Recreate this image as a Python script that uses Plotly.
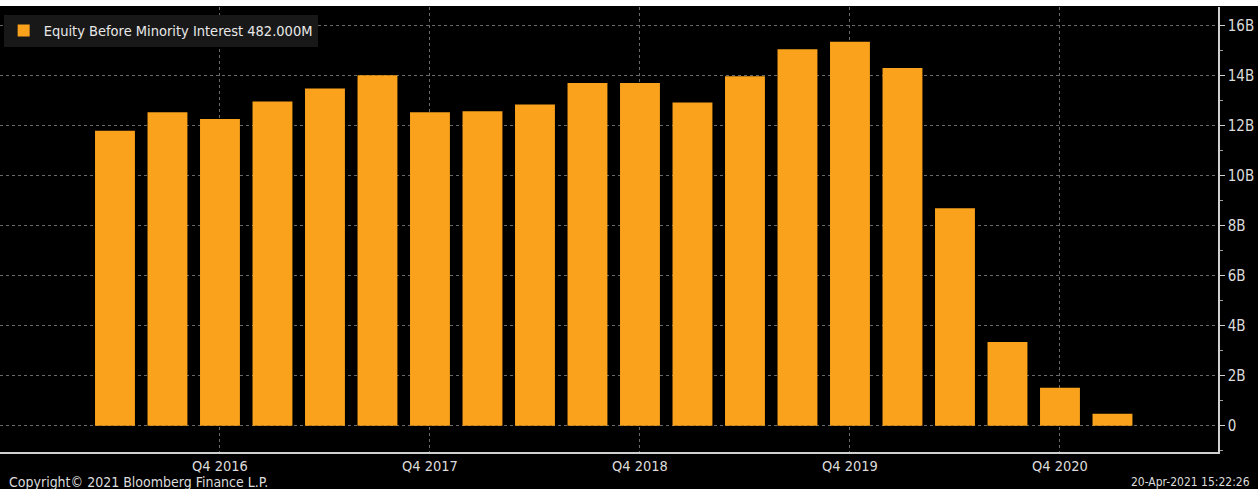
import plotly.graph_objects as go

quarters = ["Q2 2016", "Q3 2016", "Q4 2016", "Q1 2017", "Q2 2017", "Q3 2017", "Q4 2017",
            "Q1 2018", "Q2 2018", "Q3 2018", "Q4 2018", "Q1 2019", "Q2 2019", "Q3 2019",
            "Q4 2019", "Q1 2020", "Q2 2020", "Q3 2020", "Q4 2020", "Q1 2021"]
equity_bn = [11.80, 12.54, 12.27, 12.97, 13.49, 14.02, 12.54, 12.58, 12.85, 13.71,
             13.71, 12.93, 13.98, 15.06, 15.36, 14.31, 8.70, 3.35, 1.52, 0.482]
y_tick_vals = [0, 2, 4, 6, 8, 10, 12, 14, 16]
y_tick_text = ["0", "2B", "4B", "6B", "8B", "10B", "12B", "14B", "16B"]
x_tick_labels = ["Q4 2016", "Q4 2017", "Q4 2018", "Q4 2019", "Q4 2020"]

FONT = "DejaVu Sans Condensed, Liberation Sans Narrow, DejaVu Sans, sans-serif"
ORANGE = "#FAA21B"
TXT = "#dcdcdc"

legend_name = f"Equity Before Minority Interest {equity_bn[-1] * 1000:.3f}M"

fig = go.Figure()
fig.add_trace(go.Bar(x=quarters, y=equity_bn, name=legend_name,
                     marker=dict(color=ORANGE, line=dict(width=0)),
                     showlegend=True))

fig.update_layout(
    width=1258, height=489,
    margin=dict(l=0, r=40, t=7, b=37),
    paper_bgcolor="black", plot_bgcolor="black",
    font=dict(family=FONT, size=14, color=TXT),
    bargap=0.24,
    showlegend=True,
    legend=dict(x=0.003, y=0.983, xanchor="left", yanchor="top",
                bgcolor="#181818", borderwidth=0,
                font=dict(family=FONT, size=14.5, color="#e8e8e8"),
                itemsizing="constant", itemwidth=30,
                tracegroupgap=0),
    xaxis=dict(
        type="category",
        range=[-2.19, 21.01],
        tickmode="array", tickvals=x_tick_labels, ticktext=x_tick_labels,
        showgrid=True, gridcolor="#6a6a6a", griddash="dot", gridwidth=1,
        showline=True, linecolor="#d0d0d0", linewidth=1.5,
        ticks="",
        tickfont=dict(family=FONT, size=14.5, color=TXT),
        zeroline=False, fixedrange=True,
    ),
    yaxis=dict(
        side="right",
        range=[-1.05, 16.75],
        tickmode="array", tickvals=y_tick_vals, ticktext=y_tick_text,
        showgrid=True, gridcolor="#6a6a6a", griddash="dot", gridwidth=1,
        showline=True, linecolor="#d0d0d0", linewidth=1.5,
        ticks="outside", ticklen=5, tickcolor="#d0d0d0",
        minor=dict(dtick=1, tick0=1, ticks="outside", ticklen=3, tickcolor="#a0a0a0", showgrid=False),
        tickfont=dict(family=FONT, size=15, color=TXT),
        zeroline=False, fixedrange=True,
    ),
    shapes=[dict(type="rect", xref="paper", yref="paper",
                 x0=-0.01, x1=1.05, y0=1.0 + 1 / 445, y1=1.0 + 10 / 445,
                 fillcolor="white", line=dict(width=0), layer="above")],
    annotations=[
        dict(text="Copyright\u00a9 2021 Bloomberg Finance L.P.", xref="paper", yref="paper",
             x=0.0, xshift=7, y=-0.067, xanchor="left", yanchor="middle", showarrow=False,
             font=dict(family=FONT, size=14, color=TXT)),
        dict(text="20-Apr-2021 15:22:26", xref="paper", yref="paper",
             x=1.028, y=-0.067, xanchor="right", yanchor="middle", showarrow=False,
             font=dict(family=FONT, size=12, color=TXT)),
    ],
)

fig.write_html("out.html")
